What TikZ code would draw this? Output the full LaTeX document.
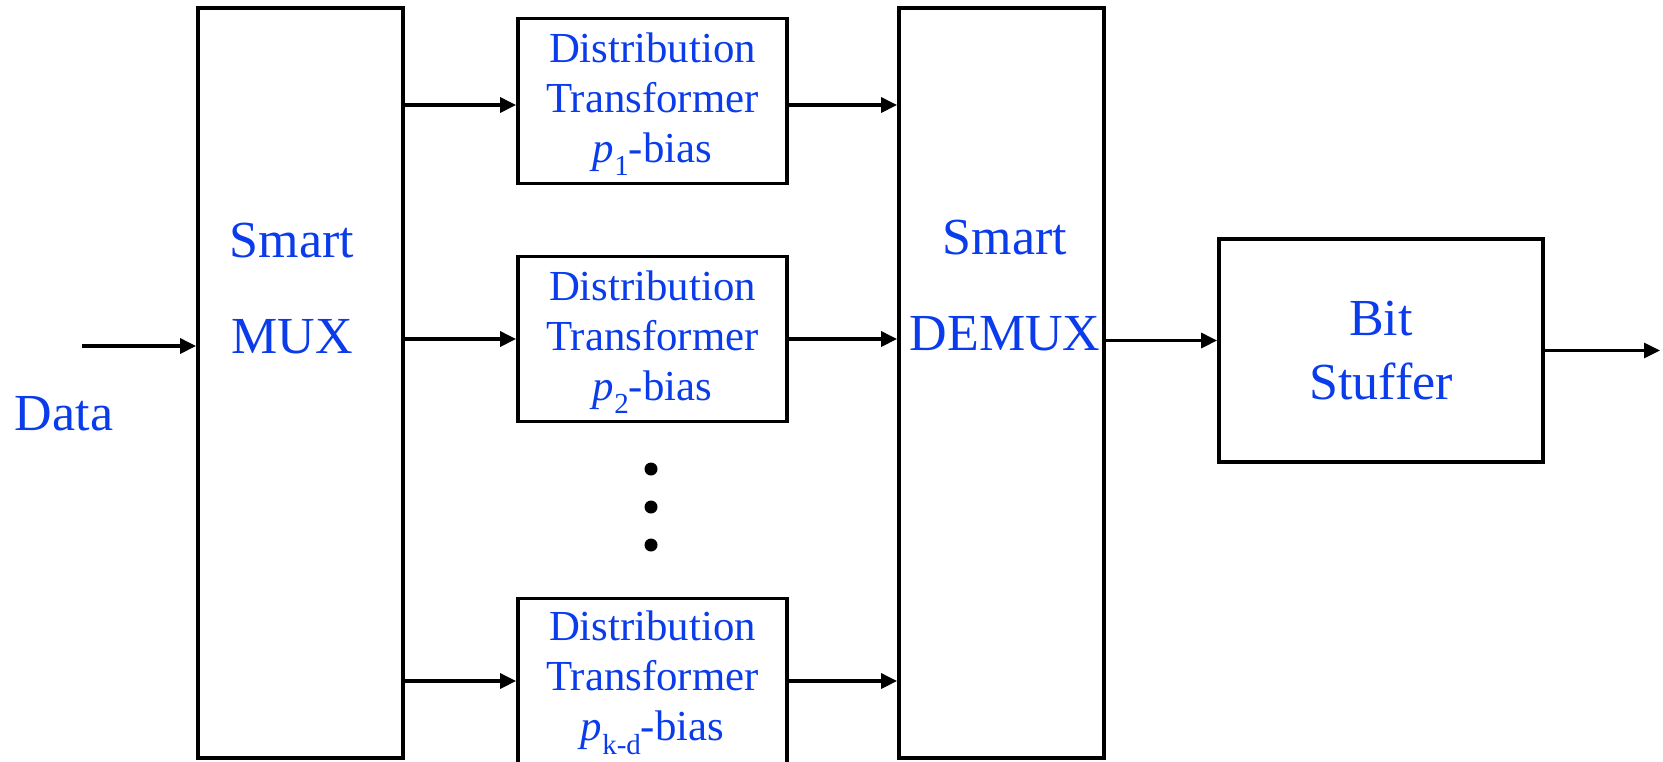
\documentclass[tikz,border=0pt]{standalone}
\usepackage{fontspec}
\setmainfont{Liberation Serif}
\usetikzlibrary{arrows.meta,positioning}
\definecolor{labelblue}{RGB}{10,60,235}
\newcommand{\lowsub}[1]{\raisebox{-0.32em}{\fontsize{14.5}{14.5}\selectfont #1}}
\tikzset{
  block/.style={draw, line width=1.9pt, minimum width=134.5pt, minimum height=82.5pt, inner sep=0pt},
  tallblock/.style={draw, line width=1.9pt, minimum width=102.5pt, minimum height=375pt, inner sep=0pt},
  stuffblock/.style={draw, line width=1.9pt, minimum width=162pt, minimum height=111.5pt, inner sep=0pt},
  lbl/.style={text=labelblue, font=\fontsize{26}{48}\selectfont, align=center, inner sep=0pt},
  smalllbl/.style={text=labelblue, font=\fontsize{21.4}{25}\selectfont, align=center, inner sep=0pt},
  arr/.style={-{Triangle[length=8pt,width=7.5pt]}, line width=1.6pt},
  dot/.style={circle, fill=black, minimum size=6.5pt, inner sep=0pt},
}
\begin{document}
\begin{tikzpicture}[x=0.5pt,y=-0.5pt]
  \useasboundingbox (0,0) rectangle (1663,761);
  % mux / demux
  \node[tallblock] (mux) at (300.5,383) {};
  \node[lbl] (muxtxt) at (292,289) {Smart\\MUX};
  \node[tallblock] (demux) at (1001.5,383) {};
  \node[lbl] (demuxtxt) at (1005,286) {Smart\\DEMUX};
  % transformers
  \node[block] (dt1) at (652.5,101) {};
  \node[smalllbl] (dt1txt) at ([yshift=-1.5pt]dt1) {Distribution\\Transformer\\\textit{p}\lowsub{1}-bias};
  \node[block] (dt2) at (652.5,339) {};
  \node[smalllbl] (dt2txt) at ([yshift=-1.5pt]dt2) {Distribution\\Transformer\\\textit{p}\lowsub{2}-bias};
  \node[block] (dt3) at (652.5,681) {};
  \node[smalllbl] (dt3txt) at ([yshift=-1pt]dt3) {Distribution\\Transformer\\\textit{p}\lowsub{k-d}-bias};
  \node[dot] (dota) at (651,469) {};
  \node[dot] (dotb) at (651,507) {};
  \node[dot] (dotc) at (651,545) {};
  % bit stuffer
  \node[stuffblock] (bits) at (1381,350.5) {};
  \node[lbl, font=\fontsize{26}{32}\selectfont] (bitstxt) at (bits) {Bit\\Stuffer};
  \coordinate (bitsin) at ([yshift=5pt]bits.west);
  % input
  \coordinate (datain) at (82,346);
  \node[lbl] (data) at (64,414) {Data};
  \coordinate (out) at (1660,350.5);
  \coordinate (tap1) at ([yshift=-2pt]dt1.west);
  \coordinate (tap2) at (dt2.west);
  \coordinate (tap3) at (dt3.west);

  \draw[arr] (datain) -- (datain -| mux.west);
  \foreach \t in {tap1,tap2,tap3} {
    \draw[arr] (mux.east |- \t) -- (\t);
    \draw[arr] (\t -| dt1.east) -- (\t -| demux.west);
  }
  \draw[arr] (demux.east |- bitsin) -- (bitsin);
  \draw[arr] (bits.east) -- (out);
\end{tikzpicture}
\end{document}
